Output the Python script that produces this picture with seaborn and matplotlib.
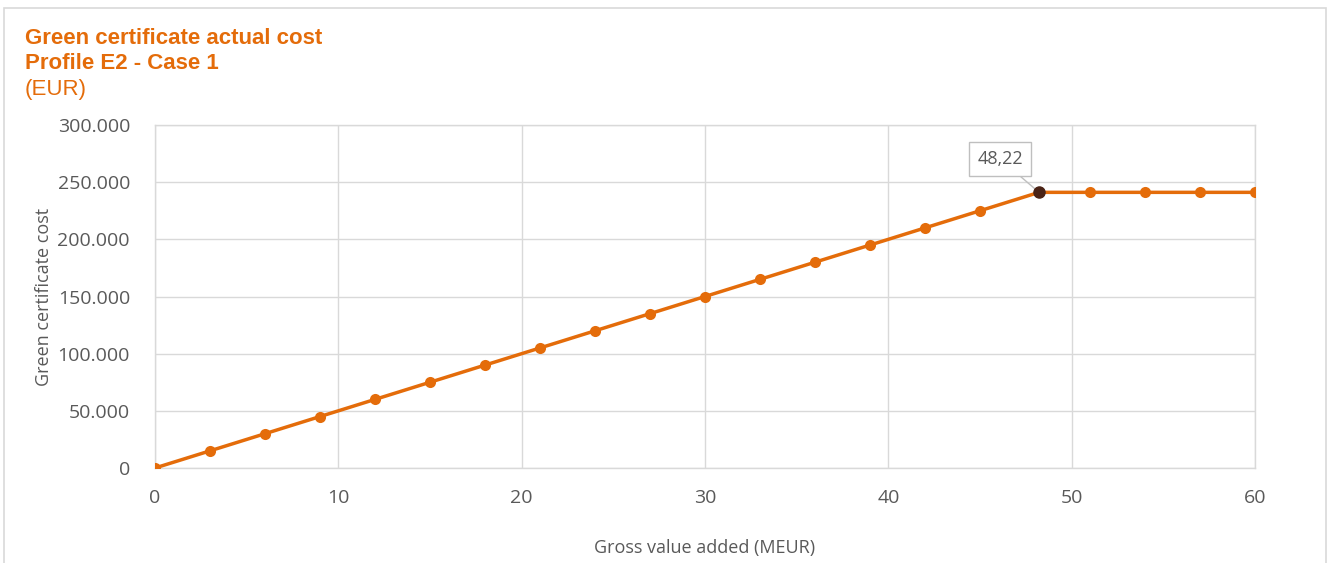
import matplotlib
matplotlib.use("Agg")
import matplotlib.pyplot as plt
import matplotlib.ticker as mticker
from matplotlib.patches import Rectangle
import seaborn as sns
import pandas as pd

# data
gross_value = [0, 3, 6, 9, 12, 15, 18, 21, 24, 27, 30, 33, 36, 39, 42, 45,
               48.22, 51, 54, 57, 60]
cert_cost = [0, 15000, 30000, 45000, 60000, 75000, 90000, 105000, 120000,
             135000, 150000, 165000, 180000, 195000, 210000, 225000,
             241100, 241100, 241100, 241100, 241100]
break_x = 48.22
break_label = "48,22"

df = pd.DataFrame({"gva": gross_value, "cost": cert_cost})

orange = "#E46C0A"
grey_txt = "#595959"
grid_c = "#D9D9D9"

sns.set_theme(style="white")
plt.rcParams["font.family"] = ["Open Sans", "DejaVu Sans"]

fig = plt.figure(figsize=(13.28, 5.63), dpi=100)
ax = fig.add_axes([155 / 1328, 1 - 468 / 563, 1100 / 1328, 343 / 563])

# outer chart frame
fig.patches.append(Rectangle((4 / 1328, -0.05), 1322 / 1328, 1 - 8 / 563 + 0.05,
                             transform=fig.transFigure, fill=False,
                             edgecolor="#D9D9D9", linewidth=1.2))

sns.lineplot(data=df, x="gva", y="cost", ax=ax, color=orange, linewidth=2.5,
             marker="o", markersize=8, markeredgewidth=0, zorder=3)

# highlighted break point
bi = gross_value.index(break_x)
ax.plot([gross_value[bi]], [cert_cost[bi]], "o", color="#4A2316",
        markersize=8, zorder=4)
ax.annotate(break_label, xy=(gross_value[bi], cert_cost[bi]),
            xytext=(-28, 24), textcoords="offset points", ha="center", va="center",
            fontsize=13, color=grey_txt,
            bbox=dict(boxstyle="square,pad=0.45", fc="white", ec="#BFBFBF", lw=1),
            arrowprops=dict(arrowstyle="-", color="#BFBFBF", lw=1,
                            shrinkA=0, shrinkB=4))

ax.set_xlim(0, 60)
ax.set_ylim(0, 300000)
ax.xaxis.set_major_locator(mticker.MultipleLocator(10))
ax.yaxis.set_major_locator(mticker.MultipleLocator(50000))
ax.yaxis.set_major_formatter(
    mticker.FuncFormatter(lambda v, p: f"{int(v):,}".replace(",", ".")))
ax.grid(True, color=grid_c, linewidth=1)
ax.set_axisbelow(True)
for s in ax.spines.values():
    s.set_color(grid_c)
    s.set_linewidth(1)
ax.tick_params(axis="both", length=0, labelsize=14, labelcolor=grey_txt)
ax.tick_params(axis="x", pad=15)
ax.tick_params(axis="y", pad=18)

ax.set_xlabel("Gross value added (MEUR)", fontsize=13, color=grey_txt, labelpad=23)
ax.set_ylabel("Green certificate cost", fontsize=13, color=grey_txt, labelpad=3)

fig.text(25 / 1328, 1 - 38 / 563, "Green certificate actual cost", fontsize=16,
         fontweight="bold", color=orange, va="center", family="Liberation Sans")
fig.text(25 / 1328, 1 - 64 / 563, "Profile E2 - Case 1", fontsize=16,
         fontweight="bold", color=orange, va="center", family="Liberation Sans")
fig.text(25 / 1328, 1 - 90 / 563, "(EUR)", fontsize=16,
         color=orange, va="center", family="Liberation Sans")

fig.savefig("out.png", dpi=100)
